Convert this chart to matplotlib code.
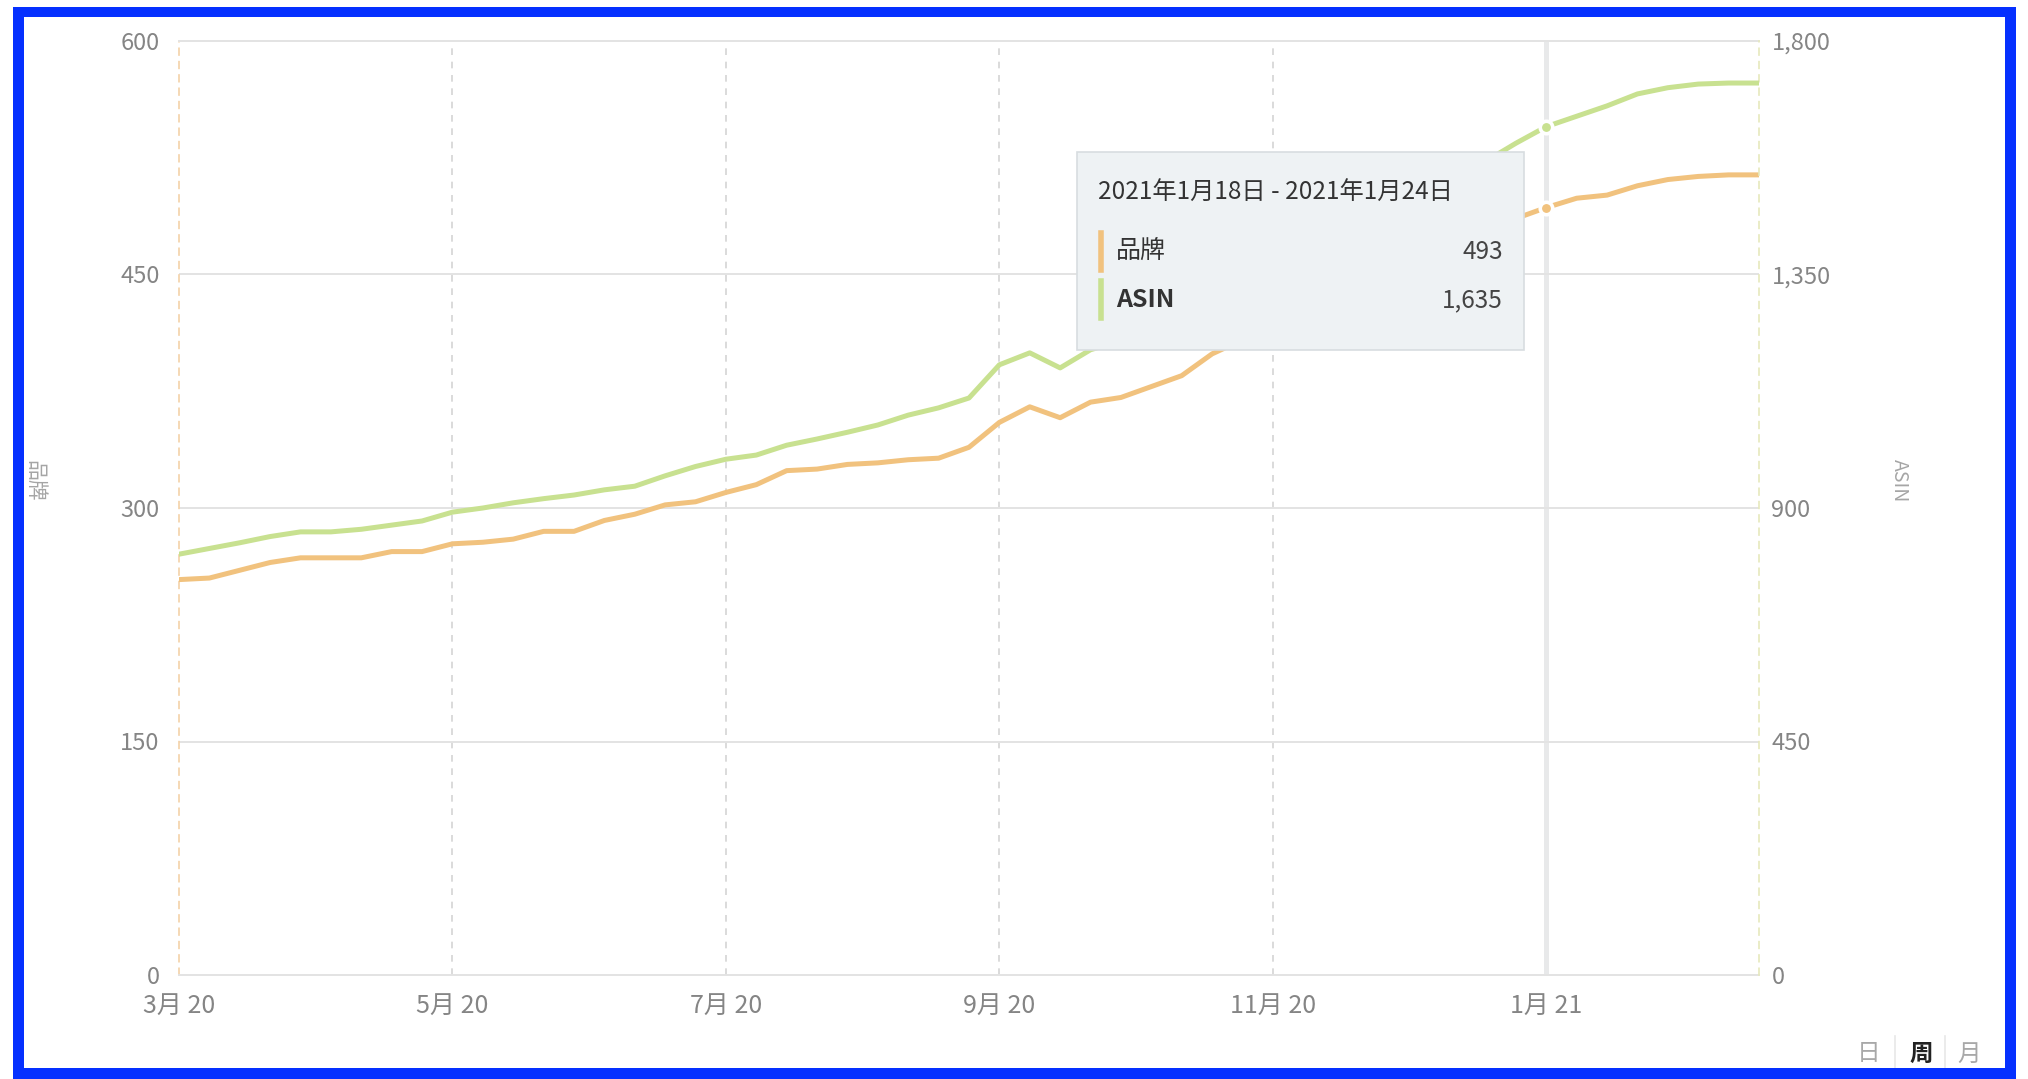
import matplotlib

matplotlib.use("Agg")
import matplotlib.pyplot as plt
from matplotlib.patches import Rectangle
from matplotlib.lines import Line2D
import pandas as pd

# weekly data, one point per week (week start dates)
week_start = pd.date_range("2020-03-09", periods=53, freq="7D")

brand = [
    254, 255, 260, 265, 268, 268, 268, 272, 272, 277,
    278, 280, 285, 285, 292, 296, 302, 304, 310, 315,
    324, 325, 328, 329, 331, 332, 339, 355, 365, 358,
    368, 371, 378, 385, 399, 408, 417, 426, 435, 444,
    453, 462, 470, 478, 486, 493, 499, 501, 507, 511,
    513, 514, 514,
]
asin = [
    811, 822, 833, 845, 854, 854, 859, 867, 875, 892,
    900, 910, 918, 925, 935, 942, 962, 980, 994, 1002,
    1021, 1033, 1046, 1060, 1079, 1093, 1112, 1176, 1199, 1170,
    1205, 1222, 1240, 1262, 1288, 1315, 1342, 1370, 1400, 1430,
    1460, 1492, 1525, 1568, 1603, 1635, 1655, 1675, 1698, 1710,
    1717, 1719, 1719,
]
brand_ticks = [0, 150, 300, 450, 600]
asin_ticks = [0, 450, 900, 1350, 1800]
tick_every = 9
hover_idx = 45
period_labels = ["日", "周", "月"]

ORANGE = "#F1C27E"
GREEN = "#C8E190"
GRID = "#E3E3E3"
TICK_COLOR = "#858585"
BLUE = "#0530FF"

W, H = 2028, 1079

plt.rcParams["font.family"] = ["Noto Sans CJK SC", "DejaVu Sans"]


def fx(x):
    return x / W


def fy(y):
    return 1 - y / H


fig = plt.figure(figsize=(W / 100, H / 100), dpi=100, facecolor="white")
ax = fig.add_axes([fx(179), fy(975), fx(1759) - fx(179), fy(41) - fy(975)])
ax2 = ax.twinx()

xs = list(range(len(week_start)))
tick_pos = xs[::tick_every]
tick_lab = [f"{d.month}月 {d:%y}" for d in week_start[::tick_every]]

# grid + hover line
ax.grid(axis="y", color=GRID, lw=1.4, ls="-")
for t in tick_pos[1:]:
    ax.axvline(t, color="#D4D4D4", lw=1.2, ls=(0, (4, 4)), zorder=1)
ax.axvline(hover_idx, color="#E8E9EA", lw=3.6, zorder=1.2)

ax.plot(xs, brand, color=ORANGE, lw=3.6, solid_joinstyle="round",
        solid_capstyle="round", zorder=3)
ax2.plot(xs, asin, color=GREEN, lw=3.6, solid_joinstyle="round",
         solid_capstyle="round", zorder=3)

# hover markers
ax.plot(hover_idx, brand[hover_idx], "o", ms=9, mfc=ORANGE, mec="white",
        mew=2.6, zorder=5)
ax2.plot(hover_idx, asin[hover_idx], "o", ms=9, mfc=GREEN, mec="white",
         mew=2.6, zorder=5)

ax.set_xlim(0, len(xs) - 1)
ax.set_ylim(brand_ticks[0], brand_ticks[-1])
ax2.set_ylim(asin_ticks[0], asin_ticks[-1])
ax.set_xticks(tick_pos)
ax.set_xticklabels(tick_lab)
ax.set_yticks(brand_ticks)
ax.set_yticklabels([f"{v:,}" for v in brand_ticks])
ax2.set_yticks(asin_ticks)
ax2.set_yticklabels([f"{v:,}" for v in asin_ticks])

ax.tick_params(axis="both", length=0, labelcolor=TICK_COLOR)
ax.tick_params(axis="y", pad=14, labelsize=17)
ax.tick_params(axis="x", pad=13, labelsize=18)
ax2.tick_params(axis="y", length=0, pad=9, labelsize=17, labelcolor=TICK_COLOR)

for s in ["top", "bottom"]:
    ax.spines[s].set_color(GRID)
    ax.spines[s].set_linewidth(1.4)
ax.spines["right"].set_visible(False)
ax.spines["left"].set_color("#F4D2A8")
ax.spines["left"].set_linestyle((0, (4, 4)))
ax.spines["left"].set_linewidth(1.2)
for s in ["top", "bottom", "left"]:
    ax2.spines[s].set_visible(False)
ax2.spines["right"].set_color("#E6E9BC")
ax2.spines["right"].set_linestyle((0, (4, 4)))
ax2.spines["right"].set_linewidth(1.2)

# axis names
fig.text(fx(34), fy(481), "品牌", rotation=270, fontsize=15, color="#A5A5A5",
         ha="center", va="center")
fig.text(fx(1899), fy(481), "ASIN", rotation=270, fontsize=14, color="#A5A5A5",
         ha="center", va="center")

# tooltip
d0 = week_start[hover_idx]
d1 = d0 + pd.Timedelta(days=6)
date_text = f"{d0.year}年{d0.month}月{d0.day}日 - {d1.year}年{d1.month}月{d1.day}日"
fig.patches.append(Rectangle((fx(1077), fy(350)), fx(1524) - fx(1077), fy(152) - fy(350),
                             transform=fig.transFigure, facecolor="#EEF2F4",
                             edgecolor="#D8DDE0", lw=1.2, zorder=10))
fig.text(fx(1098), fy(193), date_text, fontsize=17.5, color="#333333",
         ha="left", va="center", zorder=11)
rows = [("品牌", brand[hover_idx], ORANGE, 252, "normal"),
        ("ASIN", asin[hover_idx], GREEN, 300, "bold")]
for name, val, col, ypx, wt in rows:
    fig.add_artist(Line2D([fx(1101), fx(1101)], [fy(ypx - 19), fy(ypx + 18)],
                          transform=fig.transFigure, color=col, lw=4, zorder=11))
    fig.text(fx(1116), fy(ypx), name, fontsize=18, color="#333333",
             fontweight=wt, ha="left", va="center", zorder=11)
    fig.text(fx(1503), fy(ypx), f"{val:,}", fontsize=17.5, color="#444444",
             ha="right", va="center", zorder=11)

# period switch at bottom right
for lab, xp in zip(period_labels, [1869, 1921, 1969]):
    active = lab == "周"
    fig.text(fx(xp), fy(1054), lab, fontsize=17,
             color="#222222" if active else "#A8A8A8",
             fontweight="bold" if active else "normal",
             ha="center", va="center")
for xp in [1895, 1945]:
    fig.add_artist(Line2D([fx(xp), fx(xp)], [fy(1036), fy(1068)],
                          transform=fig.transFigure, color="#E8E8E8", lw=1.2))

# blue frame
for x0, y0, x1, y1 in [(13, 7, 23.5, 1079), (13, 7, 2016, 17),
                       (2005, 7, 2016, 1079), (13, 1068, 2016, 1079)]:
    fig.patches.append(Rectangle((fx(x0), fy(y1)), fx(x1) - fx(x0), fy(y0) - fy(y1),
                                 transform=fig.transFigure, facecolor=BLUE,
                                 edgecolor="none", zorder=20))

fig.savefig("out.png", dpi=100, facecolor="white")
